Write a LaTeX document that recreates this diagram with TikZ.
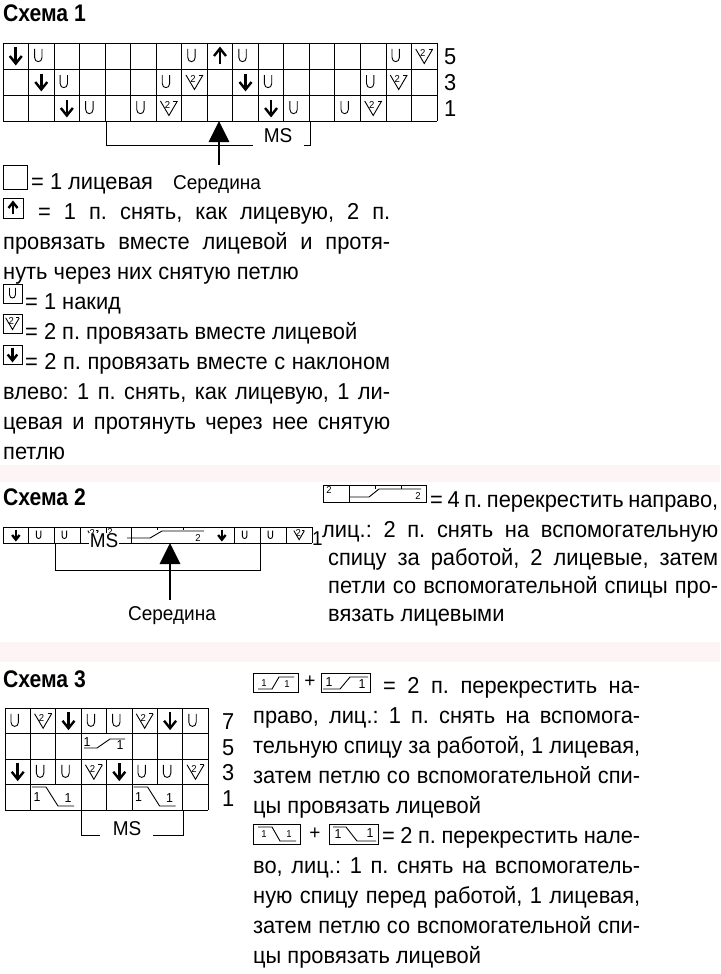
\documentclass[tikz,border=0pt]{standalone}
\usepackage{fontspec}
\setmainfont{Liberation Sans}[FakeStretch=0.95]
\newfontfamily\ttlfont{Liberation Sans}[FakeStretch=0.88]
\usetikzlibrary{arrows.meta}
\newcommand{\bodyfont}{\fontsize{23}{30}\selectfont\frenchspacing}
\newcommand{\smallfont}{\fontsize{20}{24}\selectfont}
\newcommand{\tinyfont}{\fontsize{10}{10}\selectfont}
\newcommand{\onefont}{\fontsize{13}{13}\selectfont}
\newcommand{\jl}[2]{\makebox[#1][s]{#2}}
\definecolor{pinkband}{RGB}{253,244,246}
\tikzset{
  kU/.pic={\draw[line width=0.9pt] (-3.7,-7) -- (-3.7,1.5) .. controls (-3.7,7) and (3.7,7) .. (3.7,1.5) -- (3.7,-7);},
  kDn/.pic={\draw[line width=2.6pt] (0,-8.5) -- (0,5); \draw[line width=2.4pt] (-6,0) -- (0,7.5) -- (6,0);},
  kUp/.pic={\draw[line width=2.6pt] (0,8.5) -- (0,-5); \draw[line width=2.4pt] (-6,0) -- (0,-7.5) -- (6,0);},
  kV/.pic={\draw[line width=0.9pt] (-8.5,-7) -- (0,7.5) -- (8.5,-7); \draw[line width=0.9pt] (4.5,-7) -- (8.5,-7); \node[font=\tinyfont,inner sep=0pt] at (-1.5,-2.5) {2};},
  gl/.style={line width=0.9pt},
  tx/.style={anchor=base west,inner sep=0pt,font=\bodyfont},
  sm/.style={inner sep=0pt,font=\smallfont},
  ttl/.style={anchor=base west,inner sep=0pt,font=\ttlfont\bfseries\fontsize{24}{24}\selectfont},
  midarrow/.style={line width=2.8pt,-{Triangle[width=20pt,length=21pt]}},
  one/.style={inner sep=0pt,font=\onefont},
  tiny/.style={inner sep=0pt,font=\tinyfont},
}
\begin{document}
\frenchspacing
\begin{tikzpicture}[x=1pt,y=-1pt]
\path[use as bounding box] (0,0) rectangle (720,974);
\fill[white] (0,0) rectangle (720,974);
\fill[pinkband] (0,465) rectangle (720,482);
\fill[pinkband] (0,642) rectangle (720,662);

% ================= Schema 1 =================
\node[ttl] (t1) at (3,22) {Схема 1};
\foreach \i in {0,...,17} \draw[gl] ({3+\i*25.53},43) -- ({3+\i*25.53},121);
\foreach \j in {0,...,3} \draw[gl] (3,{43+\j*26}) -- (437,{43+\j*26});
\foreach \c/\r in {2/1,8/1,10/1,16/1,3/2,7/2,11/2,15/2,4/3,6/3,12/3,14/3}
  \pic at ({3+(\c-0.5)*25.53-3},{43+(\r-0.5)*26}) {kU};
\foreach \c/\r in {1/1,2/2,10/2,3/3,11/3}
  \pic at ({3+(\c-0.5)*25.53},{43+(\r-0.5)*26}) {kDn};
\foreach \c/\r in {9/1}
  \pic at ({3+(\c-0.5)*25.53},{43+(\r-0.5)*26}) {kUp};
\foreach \c/\r in {17/1,8/2,16/2,7/3,15/3}
  \pic at ({3+(\c-0.5)*25.53},{43+(\r-0.5)*26}) {kV};
\node[tx] (r5) at (444,64) {5};
\node[tx] (r3) at (444,90) {3};
\node[tx] (r1) at (444,116) {1};
\node[sm] (ms1) at (278,136) {MS};
\draw[gl] (106,121) -- (106,145) -- (253,145);
\draw[gl] (304,145) -- (310,145) -- (310,121);
\coordinate (a1top) at (219,121);
\coordinate (a1bot) at (219,165);
\draw[midarrow] (a1bot) -- (a1top);

% legend 1
\draw[gl] (3,165) rectangle (27,189);
\node[tx] (l1) at (31,189) {= 1 лицевая};
\node[tx,font=\smallfont] (mid1) at (173,189) {Середина};
\draw[gl] (3,198) rectangle (23,218);
\pic[scale=0.75] at (13,208) {kUp};
\node[tx] (l2) at (38,219) {\jl{352pt}{= 1 п. снять, как лицевую, 2 п.}};
\node[tx] (l3) at (3,249) {\jl{387pt}{провязать вместе лицевой и протя-}};
\node[tx] (l4) at (3,279) {нуть через них снятую петлю};
\draw[gl] (3,284) rectangle (22,303);
\pic[scale=0.8] at (12.5,293.5) {kU};
\node[tx] (l5) at (25,309) {= 1 накид};
\draw[gl] (3,314) rectangle (22,333);
\pic[scale=0.8] at (12.5,323.5) {kV};
\node[tx] (l6) at (25,339) {= 2 п. провязать вместе лицевой};
\draw[gl] (3,345) rectangle (22,364);
\pic[scale=0.8] at (12.5,354.5) {kDn};
\node[tx] (l7) at (25,369) {\jl{365pt}{= 2 п. провязать вместе с наклоном}};
\node[tx] (l8) at (3,399) {\jl{387pt}{влево: 1 п. снять, как лицевую, 1 ли-}};
\node[tx] (l9) at (3,429) {\jl{387pt}{цевая и протянуть через нее снятую}};
\node[tx] (l10) at (3,459) {петлю};

% ================= Schema 2 =================
\node[ttl] (t2) at (3,505) {Схема 2};
% legend symbol
\draw[gl] (323,485) rectangle (426,502);
\draw[gl] (349,485) -- (349,502);
\draw[gl] (375,485) -- (375,489);
\draw[gl] (401,485) -- (401,489);
\draw[gl] (349,497) -- (369,497) -- (379,489) -- (421,489);
\node[tiny] (s2a) at (329,490) {2};
\node[tiny] (s2b) at (418,496) {2};
\node[tx] (m1) at (430,507) {\jl{288pt}{= 4 п. перекрестить направо,}};
\node[tx] (m2) at (322,537) {\jl{396pt}{лиц.: 2 п. снять на вспомогательную}};
\node[tx] (m3) at (328,565) {\jl{390pt}{спицу за работой, 2 лицевые, затем}};
\node[tx] (m4) at (328,593) {\jl{390pt}{петли со вспомогательной спицы про-}};
\node[tx] (m5) at (328,621) {вязать лицевыми};
% chart row
\draw[gl] (3,527) -- (312,527);
\draw[gl] (3,543) -- (312,543);
\foreach \i in {0,1,2,3,4,5,9,10,11,12} \draw[gl] ({3+\i*25.75},527) -- ({3+\i*25.75},543);
\draw[gl] (157.5,527) -- (157.5,530);
\draw[gl] (183.25,527) -- (183.25,530);
\draw[gl] (127,538) -- (150,538) -- (162,531) -- (204,531);
\node[tiny] (c2b) at (198,538) {2};
\node[tiny] (c2a) at (110,532) {2};
\foreach \c in {1,9} \pic[scale=0.62] at ({3+(\c-0.5)*25.75},535) {kDn};
\foreach \c in {2,3,10,11} \pic[scale=0.62] at ({3+(\c-0.5)*25.75-3},535) {kU};
\foreach \c in {4,12} \pic[scale=0.62] at ({3+(\c-0.5)*25.75},535) {kV};
\node[sm,fill=white,inner sep=1pt] (ms2) at (104,541) {MS};
\node[tx,font=\fontsize{20}{20}\selectfont] (r21) at (312,545) {1};
\draw[gl] (55,543) -- (55,570) -- (260,570) -- (260,543);
\coordinate (a2top) at (170,543);
\coordinate (a2bot) at (170,600);
\draw[midarrow] (a2bot) -- (a2top);
\node[sm,anchor=base] (mid2) at (172,620) {Середина};

% ================= Schema 3 =================
\node[ttl] (t3) at (3,687) {Схема 3};
\foreach \j in {0,...,4} \draw[gl] (5,{708+\j*25.5}) -- (208,{708+\j*25.5});
\foreach \i in {0,1,3,5,7,8} \draw[gl] ({5+\i*25.4},708) -- ({5+\i*25.4},810);
\draw[gl] ({5+2*25.4},708) -- ({5+2*25.4},784.5);
\draw[gl] ({5+6*25.4},708) -- ({5+6*25.4},784.5);
\draw[gl] ({5+4*25.4},708) -- ({5+4*25.4},733.5);
\draw[gl] ({5+4*25.4},759) -- ({5+4*25.4},810);
\foreach \c/\r in {1/1,4/1,5/1,8/1,2/3,3/3,6/3,7/3}
  \pic at ({5+(\c-0.5)*25.4-3},{708+(\r-0.5)*25.5}) {kU};
\foreach \c/\r in {3/1,7/1,1/3,5/3}
  \pic at ({5+(\c-0.5)*25.4},{708+(\r-0.5)*25.5}) {kDn};
\foreach \c/\r in {2/1,6/1,4/3,8/3}
  \pic at ({5+(\c-0.5)*25.4},{708+(\r-0.5)*25.5}) {kV};
% right cross row 5
\draw[gl] (84,748) -- (97,748) -- (110,739) -- (125,739);
\node[one] (x5a) at (87,742) {1};
\node[one] (x5b) at (120,745) {1};
% left crosses row 1
\foreach \s in {0,101.6} {
  \draw[gl] ({32+\s},787) -- ({46+\s},787) -- ({58+\s},806) -- ({74+\s},806);
  \node[one] at ({37+\s},797) {1};
  \node[one] at ({68+\s},798) {1};
}
\node[tx] (r37) at (222,729) {7};
\node[tx] (r35) at (222,755) {5};
\node[tx] (r33) at (222,780) {3};
\node[tx] (r31) at (222,806) {1};
\node[sm] (ms3) at (127,829) {MS};
\draw[gl] (81,810) -- (81,835) -- (100,835);
\draw[gl] (153,835) -- (183,835) -- (183,810);

% legend symbols schema 3
\draw[gl] (253,673) rectangle (298,692);
\draw[gl] (258,689) -- (272,689) -- (279,677) -- (294,677);
\node[tiny] at (264,683) {1};
\node[tiny] at (287,684) {1};
\node[sm] (plus1) at (310,682) {+};
\draw[gl] (321,673) rectangle (370,692);
\draw[gl] (323,689) -- (340,689) -- (350,677) -- (368,677);
\node[one] at (329,682) {1};
\node[one] at (362,684) {1};
\node[tx] (n1) at (383,693) {\jl{257pt}{= 2 п. перекрестить на-}};
\node[tx] (n2) at (253,723) {\jl{387pt}{право, лиц.: 1 п. снять на вспомога-}};
\node[tx] (n3) at (253,753) {\jl{387pt}{тельную спицу за работой, 1 лицевая,}};
\node[tx] (n4) at (253,783) {\jl{387pt}{затем петлю со вспомогательной спи-}};
\node[tx] (n5) at (253,813) {цы провязать лицевой};
\draw[gl] (253,824) rectangle (300,844);
\draw[gl] (258,827) -- (272,827) -- (280,841) -- (296,841);
\node[tiny] at (264,834) {1};
\node[tiny] at (289,834) {1};
\node[sm] (plus2) at (315,834) {+};
\draw[gl] (329,824) rectangle (378,844);
\draw[gl] (333,827) -- (346,827) -- (357,841) -- (376,841);
\node[one] at (338,834) {1};
\node[one] at (370,833) {1};
\node[tx] (n6) at (382,843) {\jl{258pt}{= 2 п. перекрестить нале-}};
\node[tx] (n7) at (253,873) {\jl{387pt}{во, лиц.: 1 п. снять на вспомогатель-}};
\node[tx] (n8) at (253,903) {\jl{387pt}{ную спицу перед работой, 1 лицевая,}};
\node[tx] (n9) at (253,933) {\jl{387pt}{затем петлю со вспомогательной спи-}};
\node[tx] (n10) at (253,963) {цы провязать лицевой};
\end{tikzpicture}
\end{document}
